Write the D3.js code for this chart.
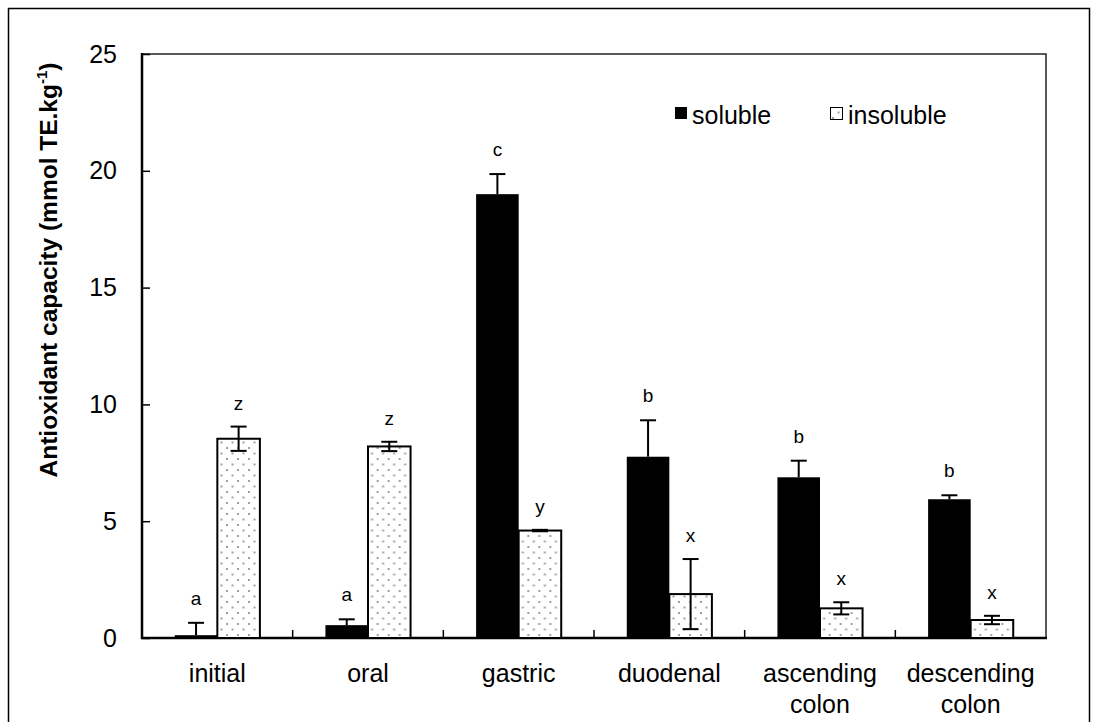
<!DOCTYPE html>
<html>
<head>
<meta charset="utf-8">
<script src="https://cdn.jsdelivr.net/npm/d3@7"></script>
<style>
  body { margin: 0; background: #fff; }
  svg { display: block; font-family: "Liberation Sans", Arial, sans-serif; }
</style>
</head>
<body>
<svg id="chart" width="1097" height="722"></svg>
<script>
// data
const categories = ["initial", "oral", "gastric", "duodenal", "ascending colon", "descending colon"];
const seriesNames = ["soluble", "insoluble"];
const soluble = [0.12, 0.55, 19.0, 7.76, 6.88, 5.94];
const solubleErr = [0.53, 0.25, 0.86, 1.56, 0.71, 0.17];
const insoluble = [8.53, 8.2, 4.6, 1.88, 1.27, 0.77];
const insolubleErr = [0.52, 0.2, 0.03, 1.5, 0.26, 0.18];
const solubleLetters = ["a", "a", "c", "b", "b", "b"];
const insolubleLetters = ["z", "z", "y", "x", "x", "x"];
const yTicks = [0, 5, 10, 15, 20, 25];

const svg = d3.select('#chart');
const plotLeft = 142, plotRight = 1046, plotTop = 54, plotBottom = 638;

// outer frame
svg.append('rect')
  .attr('x', 8.5).attr('y', 8.5)
  .attr('width', 1081).attr('height', 725)
  .attr('fill', 'none').attr('stroke', '#000').attr('stroke-width', 1.5);

// dotted fill for the insoluble bars
const pat = svg.append('defs').append('pattern')
  .attr('id', 'dots')
  .attr('patternUnits', 'userSpaceOnUse')
  .attr('width', 11).attr('height', 11);
pat.append('rect').attr('width', 11).attr('height', 11).attr('fill', '#fff');
pat.append('rect').attr('x', 1.5).attr('y', 1.5).attr('width', 2).attr('height', 2).attr('fill', '#a0a0a0');
pat.append('rect').attr('x', 7).attr('y', 7).attr('width', 2).attr('height', 2).attr('fill', '#a0a0a0');

const x = d3.scaleBand().domain(categories).range([plotLeft, plotRight]);
const xs = d3.scaleBand().domain(seriesNames).range([0, x.bandwidth()]).paddingOuter(0.77);
const y = d3.scaleLinear().domain([0, 25]).range([plotBottom, plotTop]);

// plot area box
svg.append('rect')
  .attr('x', plotLeft).attr('y', plotTop)
  .attr('width', plotRight - plotLeft).attr('height', plotBottom - plotTop)
  .attr('fill', 'none').attr('stroke', '#222').attr('stroke-width', 1.5);

// y axis
const yAxis = svg.append('g')
  .attr('transform', `translate(${plotLeft},0)`)
  .call(d3.axisLeft(y).tickValues(yTicks).tickSize(-8).tickPadding(25));
yAxis.select('.domain').remove();
yAxis.selectAll('line').attr('stroke', '#000').attr('stroke-width', 1.5);
yAxis.selectAll('text')
  .attr('font-size', 25).attr('fill', '#000')
  .attr('font-family', '"Liberation Sans", Arial, sans-serif');

// x axis ticks between categories
svg.append('g').selectAll('line')
  .data(categories.slice(1))
  .enter().append('line')
  .attr('x1', d => x(d)).attr('x2', d => x(d))
  .attr('y1', plotBottom).attr('y2', plotBottom - 8)
  .attr('stroke', '#000').attr('stroke-width', 1.5);

// x labels, wrapped on spaces
const xl = svg.append('g').selectAll('text')
  .data(categories)
  .enter().append('text')
  .attr('text-anchor', 'middle')
  .attr('font-size', 25)
  .attr('y', 682);
xl.each(function (d) {
  const t = d3.select(this);
  d.split(' ').forEach((w, i) => {
    t.append('tspan')
      .attr('x', x(d) + x.bandwidth() / 2)
      .attr('dy', i === 0 ? 0 : 31)
      .text(w);
  });
});

// axis lines
svg.append('line').attr('x1', plotLeft).attr('x2', plotLeft).attr('y1', plotTop - 1).attr('y2', plotBottom + 1)
  .attr('stroke', '#000').attr('stroke-width', 2.5);
svg.append('line').attr('x1', plotLeft - 1).attr('x2', plotRight + 1).attr('y1', plotBottom).attr('y2', plotBottom)
  .attr('stroke', '#000').attr('stroke-width', 2.5);

// bars
const groups = svg.append('g').selectAll('g')
  .data(categories)
  .enter().append('g')
  .attr('transform', d => `translate(${x(d)},0)`);

groups.append('rect')
  .attr('x', xs('soluble'))
  .attr('y', (d, i) => y(soluble[i]))
  .attr('width', xs.bandwidth())
  .attr('height', (d, i) => plotBottom - y(soluble[i]))
  .attr('fill', '#000');

groups.append('rect')
  .attr('x', xs('insoluble'))
  .attr('y', (d, i) => y(insoluble[i]))
  .attr('width', xs.bandwidth())
  .attr('height', (d, i) => plotBottom - y(insoluble[i]))
  .attr('fill', 'url(#dots)')
  .attr('stroke', '#000').attr('stroke-width', 2);

// error bars (soluble only upward, insoluble both ways)
const cap = 8;
function errBar(g, cx, y1, y2) {
  g.append('line').attr('x1', cx).attr('x2', cx).attr('y1', y1).attr('y2', y2)
    .attr('stroke', '#000').attr('stroke-width', 2);
  [y1, y2].forEach(v => g.append('line')
    .attr('x1', cx - cap).attr('x2', cx + cap).attr('y1', v).attr('y2', v)
    .attr('stroke', '#000').attr('stroke-width', 2));
}

groups.each(function (d, i) {
  const g = d3.select(this);
  const c1 = xs('soluble') + xs.bandwidth() / 2;
  const c2 = xs('insoluble') + xs.bandwidth() / 2;

  const g1 = g.append('g');
  g1.append('line').attr('x1', c1).attr('x2', c1)
    .attr('y1', y(soluble[i])).attr('y2', y(soluble[i] + solubleErr[i]))
    .attr('stroke', '#000').attr('stroke-width', 2);
  g1.append('line').attr('x1', c1 - cap).attr('x2', c1 + cap)
    .attr('y1', y(soluble[i] + solubleErr[i])).attr('y2', y(soluble[i] + solubleErr[i]))
    .attr('stroke', '#000').attr('stroke-width', 2);

  errBar(g.append('g'), c2, y(insoluble[i] + insolubleErr[i]), y(insoluble[i] - insolubleErr[i]));

  // significance letters
  g.append('text')
    .attr('x', c1).attr('y', y(soluble[i] + solubleErr[i]) - 18)
    .attr('text-anchor', 'middle').attr('font-size', 19)
    .text(solubleLetters[i]);
  g.append('text')
    .attr('x', c2).attr('y', y(insoluble[i] + insolubleErr[i]) - 17)
    .attr('text-anchor', 'middle').attr('font-size', 19)
    .text(insolubleLetters[i]);
});

// legend
const legend = svg.append('g');
legend.append('rect').attr('x', 675).attr('y', 107).attr('width', 12).attr('height', 12).attr('fill', '#000');
legend.append('text').attr('x', 692).attr('y', 124).attr('font-size', 25).text('soluble');
legend.append('rect').attr('x', 830.5).attr('y', 107.5).attr('width', 12).attr('height', 12)
  .attr('fill', 'url(#dots)').attr('stroke', '#000').attr('stroke-width', 1);
legend.append('text').attr('x', 848).attr('y', 124).attr('font-size', 25).text('insoluble');

// y title
const title = svg.append('text')
  .attr('transform', 'translate(57,270) rotate(-90)')
  .attr('text-anchor', 'middle')
  .attr('font-size', 24.5)
  .attr('font-weight', 'bold');
title.append('tspan').text('Antioxidant capacity (mmol TE.kg');
title.append('tspan').attr('font-size', 15).attr('dy', -10).text('-1');
title.append('tspan').attr('dy', 10).text(')');
</script>
</body>
</html>
